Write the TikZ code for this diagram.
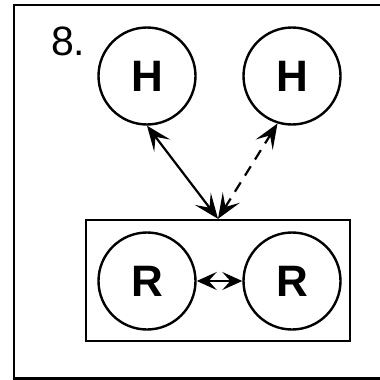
\documentclass[tikz,border=0pt]{standalone}
\usepackage{fontspec}
\setmainfont{Liberation Sans}
\usetikzlibrary{arrows.meta}
\begin{document}
\begin{tikzpicture}[x=1pt,y=-1pt,
  ball/.style={draw,circle,line width=2.4pt,minimum size=97pt,inner sep=0pt,font=\fontsize{44}{44}\selectfont\bfseries},
  conn/.style={line width=2.2pt,{Stealth[length=25pt,width=20pt,inset=11pt]}-{Stealth[length=25pt,width=20pt,inset=11pt]}},
  dashconn/.style={conn,dash pattern=on 11pt off 8pt},
  shortconn/.style={line width=2pt,{Stealth[length=20pt,width=18pt,inset=8pt]}-{Stealth[length=20pt,width=18pt,inset=8pt]}}]
\useasboundingbox (0,0) rectangle (380,380);
\draw[line width=2.6pt] (395,5) -- (14,5) -- (14,378.5) -- (395,378.5);
\node[anchor=base west,inner sep=0pt,font=\fontsize{41}{41}\selectfont] (lab) at (51,55) {8.};
\node[ball] (H1) at (147,76) {H};
\node[ball] (H2) at (292,76) {H};
\node[draw,line width=2.4pt,minimum width=264pt,minimum height=121pt,inner sep=0pt] (box) at (218,280.5) {};
\node[ball] (R1) at (147,281) {R};
\node[ball] (R2) at (292,281) {R};
\draw[conn] (H1.south) -- (box.north);
\draw[dashconn] (box.north) -- (H2.-107);
\draw[shortconn] (R1.east) -- (R2.west);
\end{tikzpicture}
\end{document}
